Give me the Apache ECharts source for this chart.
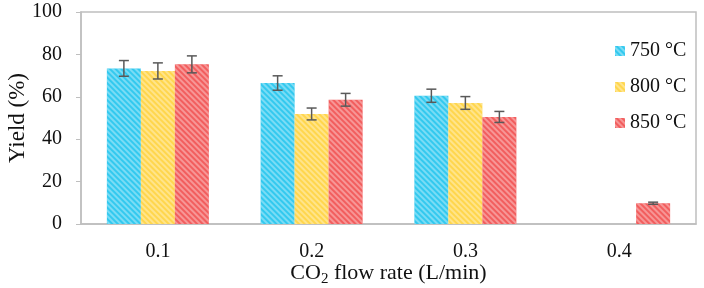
<!DOCTYPE html>
<html>
<head>
<meta charset="utf-8">
<script src="https://cdn.jsdelivr.net/npm/echarts@6/dist/echarts.min.js"></script>
<style>
  html, body { margin: 0; padding: 0; background: #fff; }
  #chart { width: 704px; height: 288px; }
</style>
</head>
<body>
<div id="chart"></div>
<script>
const categories = ['0.1', '0.2', '0.3', '0.4']
const seriesNames = ['750 °C', '800 °C', '850 °C']
const yield750 = [73.4, 66.5, 60.5, null]
const yield800 = [72.2, 51.9, 57.1, null]
const yield850 = [75.3, 58.6, 50.5, 9.8]
const err750 = [3.7, 3.4, 3.1, null]
const err800 = [3.8, 2.8, 3.0, null]
const err850 = [4.0, 3.0, 2.6, 0.5]
const yTicks = [0, 20, 40, 60, 80, 100]

const colors = ['#33c9ef', '#ffd64d', '#f25e5e']
const barWidth = 34
const font = '"Liberation Serif", "Times New Roman", serif'

const values = [yield750, yield800, yield850]
const errors = [err750, err800, err850]

const myChart = echarts.init(document.getElementById('chart'))

const barSeries = seriesNames.map((name, i) => ({
  type: 'bar',
  name: name,
  data: values[i],
  barWidth: barWidth,
  barGap: '0%',
  itemStyle: {
    color: colors[i],
    decal: {
      symbol: 'rect',
      color: 'rgba(255,255,255,0.35)',
      dashArrayX: [1, 0],
      dashArrayY: [1.5, 1.5],
      rotation: Math.PI / 4
    }
  }
}))

// error bars drawn over the bars, offset to each bar's slot
const errSeries = seriesNames.map((name, i) => ({
  type: 'custom',
  name: name + ' err',
  z: 5,
  silent: true,
  data: values[i].map((v, k) => v == null ? null : [k, v, errors[i][k]]),
  renderItem: (params, api) => {
    const k = api.value(0)
    const v = api.value(1)
    const e = api.value(2)
    const off = (i - 1) * barWidth
    const hi = api.coord([k, v + e])
    const lo = api.coord([k, v - e])
    const x = hi[0] + off
    const cap = 5
    const style = { stroke: '#595959', lineWidth: 1.5, fill: null }
    return {
      type: 'group',
      children: [
        { type: 'line', shape: { x1: x, y1: hi[1], x2: x, y2: lo[1] }, style },
        { type: 'line', shape: { x1: x - cap, y1: hi[1], x2: x + cap, y2: hi[1] }, style },
        { type: 'line', shape: { x1: x - cap, y1: lo[1], x2: x + cap, y2: lo[1] }, style }
      ]
    }
  }
}))

const option = {
  animation: false,
  textStyle: { fontFamily: font },
  grid: {
    left: 81, right: 8, top: 12, bottom: 64,
    outerBoundsMode: 'none',
    containLabel: false,
    show: true,
    borderColor: '#bfbfbf',
    borderWidth: 1.5
  },
  legend: {
    data: seriesNames,
    orient: 'vertical',
    left: 610,
    top: 36,
    itemWidth: 10,
    itemHeight: 10,
    itemGap: 16,
    icon: 'rect',
    textStyle: { fontFamily: font, fontSize: 20, color: '#111' }
  },
  xAxis: {
    type: 'category',
    data: categories,
    name: '{a|CO}{s|2}{a| flow rate (L/min)}',
    nameLocation: 'middle',
    nameGap: 36,
    nameMoveOverlap: false,
    nameTextStyle: {
      rich: {
        a: { fontFamily: font, fontSize: 22, color: '#111' },
        s: { fontFamily: font, fontSize: 15, color: '#111', padding: [12, 0, 0, 0] }
      }
    },
    axisLine: { lineStyle: { color: '#bfbfbf', width: 1.5 } },
    axisTick: { lineStyle: { color: '#bfbfbf' }, length: 5 },
    axisLabel: { fontFamily: font, fontSize: 20, color: '#111', margin: 18 }
  },
  yAxis: {
    type: 'value',
    min: yTicks[0],
    max: yTicks[yTicks.length - 1],
    interval: yTicks[1] - yTicks[0],
    name: 'Yield (%)',
    nameLocation: 'middle',
    nameGap: 52,
    nameMoveOverlap: false,
    nameTextStyle: { fontFamily: font, fontSize: 23, color: '#111' },
    axisLine: { show: true, lineStyle: { color: '#bfbfbf', width: 1.5 } },
    axisTick: { show: true, inside: false, length: 5, lineStyle: { color: '#bfbfbf' } },
    splitLine: { show: false },
    axisLabel: { fontFamily: font, fontSize: 20, color: '#111', margin: 19 }
  },
  series: [...barSeries, ...errSeries]
}
option && myChart.setOption(option)
</script>
</body>
</html>
